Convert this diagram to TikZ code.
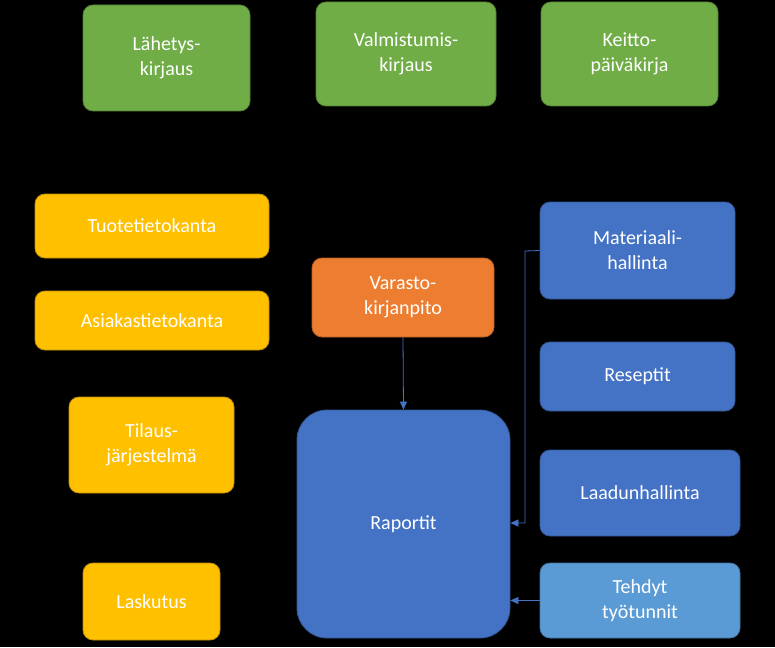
\documentclass[tikz,border=0pt]{standalone}
\usepackage{fontspec}
\setmainfont{Carlito}
\usetikzlibrary{arrows.meta}
\definecolor{grn}{HTML}{70AD47}
\definecolor{yel}{HTML}{FFC000}
\definecolor{org}{HTML}{ED7D31}
\definecolor{blu}{HTML}{4472C4}
\definecolor{lblu}{HTML}{5B9BD5}
\tikzset{
 bx/.style={draw=#1!75!black,fill=#1,line width=0.8pt,rounded corners=10pt,text=white,align=center,font=\fontsize{20}{25}\selectfont,inner sep=0pt},
 conn/.style={draw=blu,line width=0.8pt,-{Triangle[width=7pt,length=8pt]}}
}
\begin{document}
\begin{tikzpicture}[x=1pt,y=-1pt]
\fill[black] (0,0) rectangle (775,647);
\useasboundingbox (0,0) rectangle (775,647);
\newcommand\bxat[6]{\node[bx=#1,minimum width=#4-#2,minimum height=#5-#3] (#6) at ({(#2+#4)/2},{(#3+#5)/2})}
\bxat{grn}{83}{5}{250}{111}{lah} {Lähetys-\\kirjaus};
\bxat{grn}{316}{2}{496}{106}{val} {Valmistumis-\\kirjaus};
\bxat{grn}{541}{2}{718}{106}{kei} {Keitto-\\päiväkirja};
\bxat{yel}{35}{194}{269}{258}{tuo} {Tuotetietokanta};
\bxat{yel}{35}{291}{269}{350}{asi} {Asiakastietokanta};
\bxat{yel}{69}{397}{234}{493}{til} {Tilaus-\\järjestelmä};
\bxat{yel}{83}{563}{220}{640}{las} {Laskutus};
\bxat{org}{312}{258}{494}{337}{var} {Varasto-\\kirjanpito};
\node[bx=blu,rounded corners=30pt,minimum width=213,minimum height=228] (rap) at (403.5,524) {Raportit};
\bxat{blu}{540}{202}{735}{299}{mat} {Materiaali-\\hallinta};
\bxat{blu}{540}{342}{735}{411}{res} {Reseptit};
\bxat{blu}{540}{450}{740}{536}{laa} {Laadunhallinta};
\bxat{lblu}{540}{563}{740}{638}{teh} {Tehdyt\\työtunnit};
\draw[conn] (var.south) -- (rap.north);
\coordinate (j) at (525,251);
\draw[conn] (mat.west) -- (j) -- (525,523) -- (rap.east |- 0,523);
\draw[conn] (teh.west) -- (rap.east |- teh.west);
\end{tikzpicture}
\end{document}
